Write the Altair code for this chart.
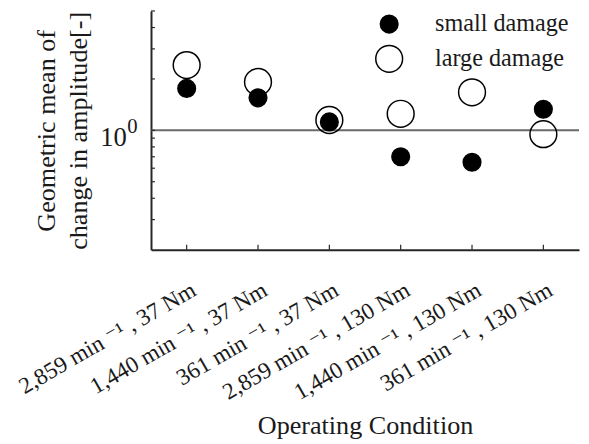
import altair as alt
import pandas as pd

# ---- data ----
conditions = [
    "2,859 min ⁻¹ , 37 Nm",
    "1,440 min ⁻¹ , 37 Nm",
    "361 min ⁻¹ , 37 Nm",
    "2,859 min ⁻¹ , 130 Nm",
    "1,440 min ⁻¹ , 130 Nm",
    "361 min ⁻¹ , 130 Nm",
]
small_damage = [1.76, 1.55, 1.12, 0.70, 0.65, 1.33]
large_damage = [2.41, 1.92, 1.15, 1.25, 1.67, 0.95]
series_names = ["small damage", "large damage"]
y_domain = [0.2, 5]
y_minor_ticks = [0.3, 0.4, 0.5, 0.6, 0.7, 0.8, 0.9, 1, 2, 3, 4, 5]
reference_level = [1]
y_tick_base = "10"
y_tick_exponent = "0"

FONT = "Liberation Serif, Tinos, Times New Roman, DejaVu Serif, serif"
INK = "#1a1a1a"
W, H = 434, 242

points = pd.DataFrame({
    "condition": conditions + conditions,
    "value": large_damage + small_damage,
    "series": ["large damage"] * len(conditions) + ["small damage"] * len(conditions),
})

x_scale = alt.Scale(type="point", domain=conditions, padding=0.5)
y_scale = alt.Scale(type="log", domain=y_domain, nice=False)

x_axis = alt.Axis(
    title="Operating Condition", titleFont=FONT, titleFontSize=26.5,
    titleFontWeight="normal", titleColor=INK, titleY=186,
    titleBaseline="alphabetic",
    labelAngle=-30, labelAlign="right", labelBaseline="middle",
    labelPadding=39, labelOffset=7, labelLimit=400, labelOverlap=False,
    labelFont=FONT, labelFontSize=23.5, labelColor=INK,
    ticks=False, tickSize=0, grid=False,
    domainColor="#262626", domainWidth=2,
)
y_axis = alt.Axis(
    title=["Geometric mean of", "change in amplitude[-]"],
    titleFont=FONT, titleFontSize=26.5, titleFontWeight="normal",
    titleColor=INK, titleX=-106, titleBaseline="middle", titleLineHeight=33,
    values=reference_level,
    labelExpr=f"datum.value == 1 ? '{y_tick_base}' : ''",
    labelFont=FONT, labelFontSize=27, labelColor=INK,
    labelPadding=25, labelBaseline="alphabetic", labelOffset=15,
    ticks=False, tickSize=0, grid=False,
    domainColor="#262626", domainWidth=2,
)

legend = alt.Legend(
    title=None, orient="none", legendX=227, legendY=1,
    labelFont=FONT, labelFontSize=24.5, labelColor=INK, labelOffset=32,
    symbolType="circle", symbolStrokeWidth=1.5,
    rowPadding=5,
)

pts = alt.Chart(points).mark_point(
    opacity=1, strokeWidth=1.5, shape="circle"
).encode(
    x=alt.X("condition:N", scale=x_scale, sort=conditions, axis=x_axis),
    y=alt.Y("value:Q", scale=y_scale, axis=y_axis),
    fill=alt.Fill("series:N", scale=alt.Scale(domain=series_names, range=["black", "transparent"]), legend=legend),
    stroke=alt.Stroke("series:N", scale=alt.Scale(domain=series_names, range=["black", "black"]), legend=legend),
    size=alt.Size("series:N", scale=alt.Scale(type="ordinal", domain=series_names, range=[320, 740]), legend=legend),
)

ref_line = alt.Chart(pd.DataFrame({"value": reference_level})).mark_rule(
    color="#6a6a6a", strokeWidth=2
).encode(y=alt.Y("value:Q", scale=y_scale, axis=y_axis))

y_ticks = alt.Chart(pd.DataFrame({"value": y_minor_ticks})).mark_rule(
    color="#262626", strokeWidth=1.2
).encode(
    y=alt.Y("value:Q", scale=y_scale, axis=y_axis),
    x=alt.value(0), x2=alt.value(4),
)

x_ticks = alt.Chart(pd.DataFrame({"condition": conditions})).mark_rule(
    color="#262626", strokeWidth=1.2
).encode(
    x=alt.X("condition:N", scale=x_scale, sort=conditions, axis=x_axis),
    y=alt.value(H), y2=alt.value(H - 5),
)

sup = alt.Chart(pd.DataFrame({"value": reference_level, "label": [y_tick_exponent]})).mark_text(
    align="left", baseline="alphabetic", dy=3, font=FONT, fontSize=21, color=INK
).encode(
    y=alt.Y("value:Q", scale=y_scale, axis=y_axis),
    x=alt.value(-24),
    text="label:N",
)

chart = alt.layer(ref_line, y_ticks, x_ticks, pts, sup).properties(
    width=W, height=H,
    padding={"left": 145, "top": 0, "right": 2, "bottom": 194},
    autosize=alt.AutoSizeParams(type="none"),
).configure_view(stroke=None)

chart.save("out.html", embed_options={"renderer": "svg", "actions": False})
